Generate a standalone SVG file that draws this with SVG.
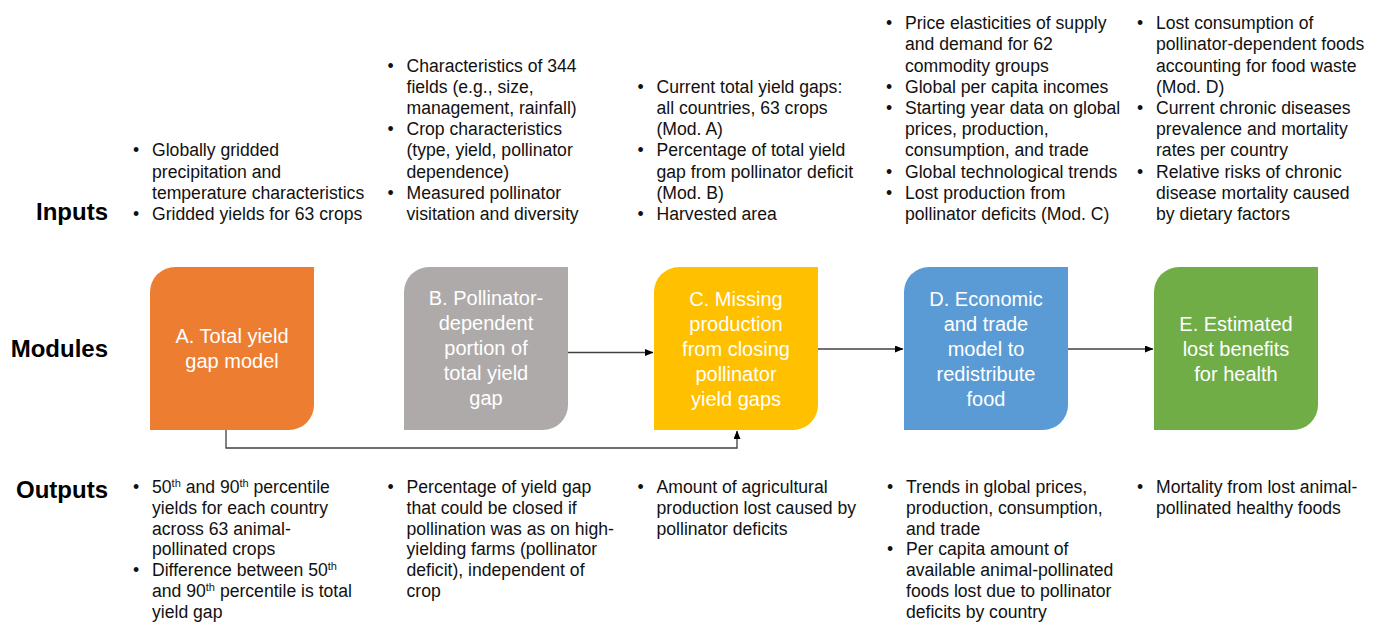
<svg xmlns="http://www.w3.org/2000/svg" width="1380" height="624" viewBox="0 0 1380 624">
<style>
.t{font-family:"Liberation Sans",Arial,sans-serif;font-size:17.6px;fill:#111}
.h{font-family:"Liberation Sans",Arial,sans-serif;font-size:24px;font-weight:bold;fill:#000;text-anchor:end}
.m{font-family:"Liberation Sans",Arial,sans-serif;font-size:20px;fill:#fff;text-anchor:middle}
.sup{font-size:11px}
.c{fill:none;stroke:#404040;stroke-width:1.3}
</style>
<defs>
<marker id="ah" markerWidth="9" markerHeight="8" refX="8" refY="3.5" orient="auto" markerUnits="userSpaceOnUse">
<path d="M0,0 L8.5,3.5 L0,7 z" fill="#000"/>
</marker>
</defs>
<rect width="1380" height="624" fill="#fff"/>

<g id="row-labels">
<text class="h" x="108" y="220">Inputs</text>
<text class="h" x="108" y="357">Modules</text>
<text class="h" x="108" y="498">Outputs</text>
</g>

<g id="connectors">
<path class="c" d="M568 352.5 H653" marker-end="url(#ah)"/>
<path class="c" d="M818 349 H903" marker-end="url(#ah)"/>
<path class="c" d="M1068 349 H1153" marker-end="url(#ah)"/>
<path class="c" d="M226 430 V448 H737 V431" marker-end="url(#ah)"/>
</g>

<g id="nodeA">
<path d="M175 267 H314 V405 A25 25 0 0 1 289 430 H150 V292 A25 25 0 0 1 175 267 Z" fill="#ED7D31"/>
<text class="m"><tspan x="232" y="343">A. Total yield</tspan><tspan x="232" y="368">gap model</tspan></text>
</g>
<g id="nodeB">
<path d="M429 267 H568 V405 A25 25 0 0 1 543 430 H404 V292 A25 25 0 0 1 429 267 Z" fill="#AEAAAA"/>
<text class="m"><tspan x="486" y="305">B. Pollinator-</tspan><tspan x="486" y="330">dependent</tspan><tspan x="486" y="355">portion of</tspan><tspan x="486" y="380">total yield</tspan><tspan x="486" y="405">gap</tspan></text>
</g>
<g id="nodeC">
<path d="M679 267 H818 V405 A25 25 0 0 1 793 430 H654 V292 A25 25 0 0 1 679 267 Z" fill="#FFC000"/>
<text class="m"><tspan x="736" y="306">C. Missing</tspan><tspan x="736" y="331">production</tspan><tspan x="736" y="356">from closing</tspan><tspan x="736" y="381">pollinator</tspan><tspan x="736" y="406">yield gaps</tspan></text>
</g>
<g id="nodeD">
<path d="M929 267 H1068 V405 A25 25 0 0 1 1043 430 H904 V292 A25 25 0 0 1 929 267 Z" fill="#5B9BD5"/>
<text class="m"><tspan x="986" y="306">D. Economic</tspan><tspan x="986" y="331">and trade</tspan><tspan x="986" y="356">model to</tspan><tspan x="986" y="381">redistribute</tspan><tspan x="986" y="406">food</tspan></text>
</g>
<g id="nodeE">
<path d="M1179 267 H1318 V405 A25 25 0 0 1 1293 430 H1154 V292 A25 25 0 0 1 1179 267 Z" fill="#70AD47"/>
<text class="m"><tspan x="1236" y="331">E. Estimated</tspan><tspan x="1236" y="356">lost benefits</tspan><tspan x="1236" y="381">for health</tspan></text>
</g>

<g id="inputs">
<text class="t">
<tspan x="133" y="156.4">•</tspan><tspan x="152" y="156.4">Globally gridded</tspan>
<tspan x="152" y="177.6">precipitation and</tspan>
<tspan x="152" y="198.8">temperature characteristics</tspan>
<tspan x="133" y="220">•</tspan><tspan x="152" y="220">Gridded yields for 63 crops</tspan>
</text>
<text class="t">
<tspan x="387.5" y="71.6">•</tspan><tspan x="406.5" y="71.6">Characteristics of 344</tspan>
<tspan x="406.5" y="92.8">fields (e.g., size,</tspan>
<tspan x="406.5" y="114">management, rainfall)</tspan>
<tspan x="387.5" y="135.2">•</tspan><tspan x="406.5" y="135.2">Crop characteristics</tspan>
<tspan x="406.5" y="156.4">(type, yield, pollinator</tspan>
<tspan x="406.5" y="177.6">dependence)</tspan>
<tspan x="387.5" y="198.8">•</tspan><tspan x="406.5" y="198.8">Measured pollinator</tspan>
<tspan x="406.5" y="220">visitation and diversity</tspan>
</text>
<text class="t">
<tspan x="637.5" y="92.8">•</tspan><tspan x="656.5" y="92.8">Current total yield gaps:</tspan>
<tspan x="656.5" y="114">all countries, 63 crops</tspan>
<tspan x="656.5" y="135.2">(Mod. A)</tspan>
<tspan x="637.5" y="156.4">•</tspan><tspan x="656.5" y="156.4">Percentage of total yield</tspan>
<tspan x="656.5" y="177.6">gap from pollinator deficit</tspan>
<tspan x="656.5" y="198.8">(Mod. B)</tspan>
<tspan x="637.5" y="220">•</tspan><tspan x="656.5" y="220">Harvested area</tspan>
</text>
<text class="t">
<tspan x="886" y="29.2">•</tspan><tspan x="905" y="29.2">Price elasticities of supply</tspan>
<tspan x="905" y="50.4">and demand for 62</tspan>
<tspan x="905" y="71.6">commodity groups</tspan>
<tspan x="886" y="92.8">•</tspan><tspan x="905" y="92.8">Global per capita incomes</tspan>
<tspan x="886" y="114">•</tspan><tspan x="905" y="114">Starting year data on global</tspan>
<tspan x="905" y="135.2">prices, production,</tspan>
<tspan x="905" y="156.4">consumption, and trade</tspan>
<tspan x="886" y="177.6">•</tspan><tspan x="905" y="177.6">Global technological trends</tspan>
<tspan x="886" y="198.8">•</tspan><tspan x="905" y="198.8">Lost production from</tspan>
<tspan x="905" y="220">pollinator deficits (Mod. C)</tspan>
</text>
<text class="t">
<tspan x="1137" y="29.2">•</tspan><tspan x="1156" y="29.2">Lost consumption of</tspan>
<tspan x="1156" y="50.4">pollinator-dependent foods</tspan>
<tspan x="1156" y="71.6">accounting for food waste</tspan>
<tspan x="1156" y="92.8">(Mod. D)</tspan>
<tspan x="1137" y="114">•</tspan><tspan x="1156" y="114">Current chronic diseases</tspan>
<tspan x="1156" y="135.2">prevalence and mortality</tspan>
<tspan x="1156" y="156.4">rates per country</tspan>
<tspan x="1137" y="177.6">•</tspan><tspan x="1156" y="177.6">Relative risks of chronic</tspan>
<tspan x="1156" y="198.8">disease mortality caused</tspan>
<tspan x="1156" y="220">by dietary factors</tspan>
</text>
</g>

<g id="outputs">
<text class="t">
<tspan x="133" y="493">•</tspan><tspan x="152" y="493">50</tspan><tspan class="sup" dy="-6">th</tspan><tspan dy="6"> and 90</tspan><tspan class="sup" dy="-6">th</tspan><tspan dy="6"> percentile</tspan>
<tspan x="152" y="513.8">yields for each country</tspan>
<tspan x="152" y="534.6">across 63 animal-</tspan>
<tspan x="152" y="555.4">pollinated crops</tspan>
<tspan x="133" y="576.2">•</tspan><tspan x="152" y="576.2">Difference between 50</tspan><tspan class="sup" dy="-6">th</tspan>
<tspan x="152" y="597">and 90</tspan><tspan class="sup" dy="-6">th</tspan><tspan dy="6"> percentile is total</tspan>
<tspan x="152" y="617.8">yield gap</tspan>
</text>
<text class="t">
<tspan x="387.5" y="493">•</tspan><tspan x="406.5" y="493">Percentage of yield gap</tspan>
<tspan x="406.5" y="513.8">that could be closed if</tspan>
<tspan x="406.5" y="534.6">pollination was as on high-</tspan>
<tspan x="406.5" y="555.4">yielding farms (pollinator</tspan>
<tspan x="406.5" y="576.2">deficit), independent of</tspan>
<tspan x="406.5" y="597">crop</tspan>
</text>
<text class="t">
<tspan x="637.5" y="493">•</tspan><tspan x="656.5" y="493">Amount of agricultural</tspan>
<tspan x="656.5" y="513.8">production lost caused by</tspan>
<tspan x="656.5" y="534.6">pollinator deficits</tspan>
</text>
<text class="t">
<tspan x="887" y="493">•</tspan><tspan x="906" y="493">Trends in global prices,</tspan>
<tspan x="906" y="513.8">production, consumption,</tspan>
<tspan x="906" y="534.6">and trade</tspan>
<tspan x="887" y="555.4">•</tspan><tspan x="906" y="555.4">Per capita amount of</tspan>
<tspan x="906" y="576.2">available animal-pollinated</tspan>
<tspan x="906" y="597">foods lost due to pollinator</tspan>
<tspan x="906" y="617.8">deficits by country</tspan>
</text>
<text class="t">
<tspan x="1137" y="493">•</tspan><tspan x="1156" y="493">Mortality from lost animal-</tspan>
<tspan x="1156" y="513.8">pollinated healthy foods</tspan>
</text>
</g>
</svg>
